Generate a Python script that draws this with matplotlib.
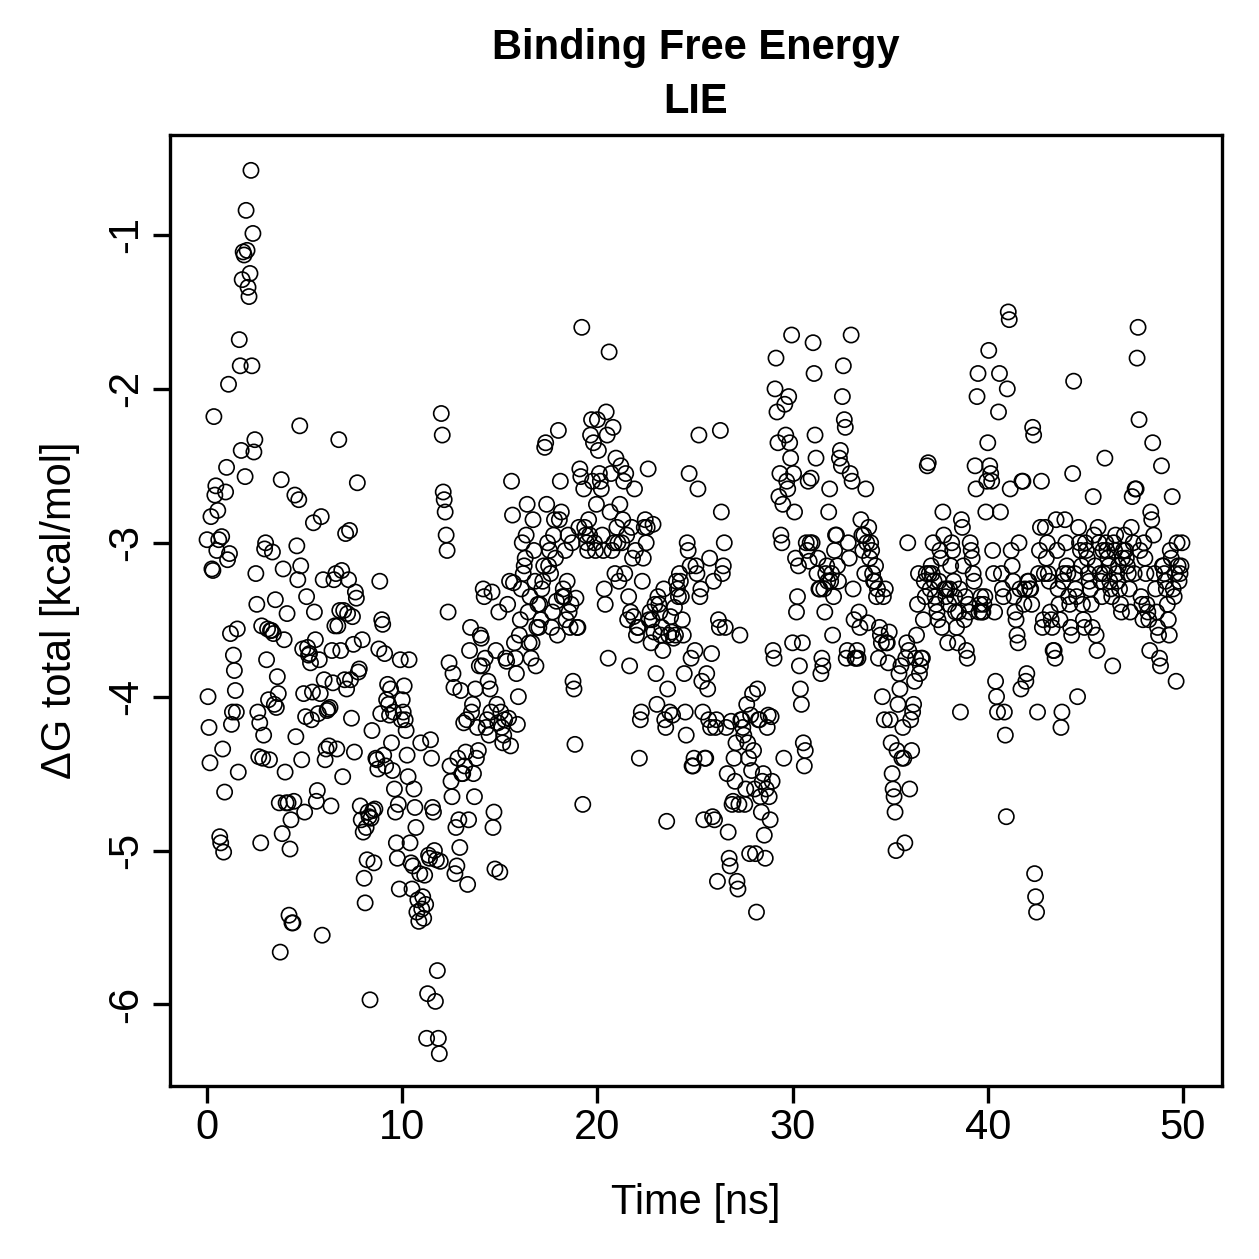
import numpy as np
import matplotlib
matplotlib.use('Agg')
import matplotlib.pyplot as plt

plt.rcParams['font.family'] = ['Liberation Sans', 'DejaVu Sans']

# ΔG total [kcal/mol], one value every 0.05 ns, split by 10 ns
dg_0_10 = [
    -2.98, -4.00, -4.20, -4.43, -2.83, -3.17, -3.18, -2.18, -2.69, -2.63, -3.05, -2.79, -2.98, -4.91, -4.95, -2.96, -4.34, -5.01, -4.62, -2.67,
    -2.51, -3.11, -1.97, -3.07, -3.59, -4.18, -4.10, -3.73, -3.83, -3.96, -4.10, -3.56, -4.49, -1.68, -1.85, -2.40, -1.29, -1.11, -1.13, -2.57,
    -0.84, -1.10, -1.34, -1.40, -1.25, -0.58, -1.85, -0.99, -2.41, -2.33, -3.20, -3.40, -4.10, -4.39, -4.17, -4.95, -3.54, -4.40, -4.25, -3.04,
    -3.00, -3.76, -3.56, -4.02, -4.41, -3.57, -3.57, -3.06, -3.59, -4.05, -3.37, -4.07, -3.87, -3.98, -4.69, -5.66, -2.59, -4.89, -3.17, -3.63,
    -4.49, -4.69, -3.46, -4.69, -5.42, -4.99, -4.80, -5.47, -5.47, -4.68, -2.69, -4.26, -3.02, -3.24, -2.72, -2.24, -3.15, -4.41, -3.69, -3.98,
    -4.75, -4.13, -3.35, -3.68, -3.73, -3.72, -3.78, -4.15, -3.97, -2.87, -3.45, -3.63, -4.68, -4.61, -4.11, -3.76, -3.98, -2.83, -5.55, -3.24,
    -3.89, -4.41, -4.34, -4.09, -4.08, -4.32, -4.07, -4.71, -3.70, -3.91, -3.24, -3.54, -3.20, -4.34, -3.54, -2.33, -3.44, -3.70, -3.18, -4.52,
    -3.44, -3.89, -2.94, -3.95, -3.46, -3.24, -2.92, -3.89, -4.14, -3.48, -3.66, -4.36, -3.32, -3.36, -2.61, -3.84, -3.82, -4.71, -4.80, -3.63,
    -4.88, -5.18, -5.34, -4.85, -5.06, -4.75, -4.78, -5.97, -4.79, -4.22, -4.74, -5.08, -4.73, -4.40, -4.41, -4.47, -3.69, -3.25, -4.11, -3.50,
    -3.53, -4.38, -3.72, -4.45, -4.02, -3.92, -4.05, -4.12, -3.95, -4.30, -4.48, -4.10, -4.60, -4.75, -4.95, -5.05, -4.70, -5.25, -3.76, -4.15,
]
dg_10_20 = [
    -4.02, -4.10, -3.93, -4.15, -4.22, -4.38, -4.52, -3.76, -4.95, -5.08, -5.25, -5.10, -4.60, -4.72, -4.85, -5.40, -5.32, -5.46, -5.15, -4.30,
    -5.38, -5.30, -5.44, -5.16, -5.35, -6.22, -5.93, -5.03, -5.05, -4.28, -4.40, -4.72, -4.75, -5.00, -5.98, -5.06, -5.78, -6.22, -6.32, -5.07,
    -2.16, -2.30, -2.67, -2.72, -2.80, -2.95, -3.05, -3.45, -3.78, -4.45, -4.55, -4.65, -3.85, -3.94, -5.15, -4.85, -5.10, -4.40, -4.80, -4.98,
    -3.96, -4.50, -4.50, -4.17, -4.45, -4.36, -4.15, -5.22, -4.80, -3.70, -3.55, -4.10, -4.05, -4.50, -4.65, -3.95, -4.40, -4.20, -4.35, -3.80,
    -3.60, -3.62, -3.80, -3.30, -3.35, -3.75, -4.20, -4.15, -3.90, -4.25, -3.95, -4.10, -3.32, -4.85, -4.75, -5.12, -3.70, -4.05, -4.17, -3.45,
    -5.14, -4.10, -4.20, -4.30, -4.25, -4.15, -3.75, -3.77, -3.40, -4.14, -3.25, -4.32, -2.60, -2.82, -3.26, -3.65, -3.75, -3.85, -4.18, -4.00,
    -3.60, -3.50, -3.30, -3.00, -3.20, -3.15, -3.10, -2.95, -2.75, -3.45, -3.65, -3.35, -3.75, -3.65, -2.85, -3.05, -3.25, -3.80, -3.55, -3.40,
    -3.55, -3.40, -3.50, -3.30, -3.25, -3.15, -2.38, -2.35, -2.75, -3.00, -3.15, -3.05, -3.20, -3.55, -3.45, -2.95, -2.85, -3.10, -3.38, -3.60,
    -2.27, -2.85, -2.60, -2.80, -3.35, -3.30, -3.35, -3.05, -3.50, -3.25, -2.95, -3.45, -3.55, -3.40, -3.00, -3.90, -3.95, -4.31, -3.36, -3.55,
    -3.55, -2.90, -2.52, -2.57, -1.60, -4.70, -2.65, -2.90, -2.95, -3.00, -3.05, -2.85, -2.95, -2.30, -2.20, -2.60, -2.35, -3.00, -3.05, -2.75,
]
dg_20_30 = [
    -2.20, -2.40, -2.55, -2.60, -2.65, -2.95, -3.05, -3.30, -3.40, -2.15, -2.30, -3.75, -1.76, -2.80, -2.55, -3.05, -2.25, -3.00, -3.20, -2.45,
    -2.90, -3.00, -3.25, -2.75, -2.50, -3.00, -2.85, -2.60, -3.20, -2.55, -2.95, -3.50, -3.35, -3.80, -3.45, -2.90, -3.10, -3.48, -2.65, -3.05,
    -3.60, -3.55, -3.55, -4.40, -4.15, -4.10, -3.25, -3.10, -2.90, -2.85, -3.00, -2.90, -2.52, -3.50, -3.45, -3.65, -3.50, -2.88, -3.58, -3.40,
    -3.85, -4.05, -3.35, -3.40, -3.45, -3.60, -3.55, -3.70, -3.30, -4.15, -4.20, -4.81, -3.95, -3.60, -4.10, -3.48, -3.58, -4.12, -3.62, -3.42,
    -3.60, -3.25, -3.30, -3.35, -3.20, -3.25, -3.35, -3.50, -3.60, -3.85, -4.10, -4.25, -3.00, -3.05, -2.55, -3.15, -3.75, -4.45, -4.45, -4.40,
    -3.70, -3.15, -3.20, -2.65, -2.30, -3.35, -3.30, -3.90, -4.10, -4.80, -4.40, -4.40, -3.85, -3.95, -4.15, -3.10, -4.20, -3.72, -4.78, -3.25,
    -4.80, -4.20, -4.15, -5.20, -3.50, -3.55, -2.27, -2.80, -3.20, -3.15, -3.00, -3.55, -4.20, -4.50, -4.88, -5.05, -5.10, -4.16, -4.70, -4.68,
    -4.40, -4.55, -4.30, -5.20, -5.25, -4.70, -3.60, -4.15, -4.15, -4.20, -4.25, -4.70, -4.60, -4.05, -4.30, -4.40, -5.02, -4.12, -4.48, -3.98,
    -4.35, -4.60, -5.02, -5.40, -3.95, -4.15, -4.15, -4.65, -4.75, -4.55, -4.50, -4.90, -5.05, -4.60, -4.20, -4.12, -4.65, -4.80, -4.13, -4.55,
    -3.70, -3.75, -2.00, -1.80, -2.15, -2.35, -2.70, -2.55, -2.95, -3.00, -2.75, -4.40, -2.10, -2.30, -2.60, -2.65, -2.05, -2.35, -2.45, -1.65,
]
dg_30_40 = [
    -3.65, -2.55, -2.80, -3.10, -3.45, -3.35, -3.15, -3.80, -3.95, -4.05, -3.65, -4.30, -4.45, -4.35, -3.00, -3.05, -2.60, -3.12, -3.00, -2.58,
    -3.00, -1.70, -1.90, -2.30, -2.45, -3.20, -3.10, -3.30, -3.30, -3.85, -3.75, -3.80, -3.30, -3.45, -3.20, -3.15, -3.25, -2.80, -2.65, -3.25,
    -3.20, -3.60, -3.35, -3.05, -2.95, -2.95, -3.15, -3.25, -2.45, -2.40, -2.50, -2.05, -1.85, -2.20, -2.25, -3.75, -3.70, -3.00, -3.10, -2.55,
    -1.65, -2.60, -3.30, -3.50, -3.75, -3.75, -3.70, -3.75, -3.45, -3.55, -2.85, -2.95, -3.05, -2.95, -3.20, -2.65, -3.00, -3.52, -2.90, -3.10,
    -3.00, -3.05, -3.20, -3.25, -3.25, -3.15, -3.35, -3.30, -3.75, -3.55, -3.60, -3.65, -4.00, -3.35, -4.15, -3.30, -3.65, -3.65, -3.78, -3.58,
    -4.15, -4.30, -4.50, -4.60, -4.65, -4.75, -5.00, -4.35, -4.05, -3.85, -3.95, -3.80, -4.40, -4.20, -4.40, -4.95, -3.75, -3.65, -3.00, -3.70,
    -4.60, -4.15, -4.35, -4.10, -4.05, -3.90, -3.75, -3.60, -3.40, -3.20, -3.85, -3.80, -3.75, -3.75, -3.50, -3.25, -3.35, -3.20, -2.50, -2.48,
    -3.20, -3.30, -3.15, -3.20, -3.00, -3.25, -3.35, -3.40, -3.45, -3.50, -3.25, -3.05, -3.10, -3.55, -2.80, -2.95, -3.30, -3.35, -3.30, -3.65,
    -3.40, -3.30, -3.15, -3.00, -3.05, -3.25, -3.35, -3.45, -3.55, -3.65, -3.45, -3.30, -4.10, -2.85, -2.90, -3.15, -3.50, -3.35, -3.70, -3.75,
    -3.40, -3.45, -3.00, -3.05, -3.10, -3.20, -3.25, -2.50, -2.65, -2.05, -1.90, -3.45, -3.40, -3.35, -3.45, -3.45, -3.40, -3.35, -2.80, -2.60,
]
dg_40_50 = [
    -2.35, -1.75, -2.50, -2.55, -2.60, -3.05, -3.20, -3.45, -3.90, -4.00, -4.10, -2.15, -1.90, -2.80, -3.20, -3.30, -3.35, -4.10, -4.25, -4.78,
    -2.00, -1.50, -1.55, -2.65, -3.05, -3.15, -3.25, -3.35, -3.45, -3.50, -3.60, -3.65, -3.00, -3.30, -3.95, -2.60, -2.60, -3.40, -3.30, -3.90,
    -3.85, -3.25, -3.25, -3.30, -3.30, -3.40, -2.25, -2.30, -5.15, -5.30, -5.40, -4.10, -3.20, -3.05, -2.90, -2.60, -3.55, -3.50, -3.20, -2.90,
    -3.10, -3.00, -3.20, -3.25, -3.45, -3.50, -3.55, -3.70, -3.70, -3.75, -2.85, -3.05, -3.30, -3.40, -3.50, -4.20, -4.10, -3.25, -3.20, -2.85,
    -3.00, -3.15, -3.20, -3.35, -3.40, -3.55, -3.60, -2.55, -1.95, -3.20, -3.30, -3.35, -4.00, -2.90, -3.00, -3.05, -3.15, -3.40, -3.50, -3.55,
    -3.00, -3.05, -3.10, -3.20, -3.25, -3.30, -3.40, -3.55, -2.70, -2.95, -3.15, -3.60, -3.70, -2.90, -3.00, -3.20, -3.25, -3.35, -3.05, -3.20,
    -2.45, -3.00, -3.05, -3.10, -3.15, -3.25, -3.30, -3.35, -3.80, -3.00, -3.05, -2.95, -3.20, -3.25, -3.15, -3.30, -3.40, -3.45, -3.10, -3.05,
    -2.95, -3.05, -3.10, -3.15, -3.20, -3.30, -3.45, -2.90, -2.70, -3.00, -3.20, -2.65, -2.65, -1.80, -1.60, -2.20, -3.05, -3.35, -3.40, -3.50,
    -3.00, -3.10, -3.20, -3.40, -3.45, -3.50, -3.70, -2.80, -2.85, -2.35, -2.95, -3.20, -3.30, -3.45, -3.55, -3.60, -3.75, -3.80, -2.50, -3.15,
    -3.15, -3.20, -3.25, -3.30, -3.40, -3.50, -3.60, -3.05, -3.10, -2.70, -3.30, -3.35, -3.20, -3.90, -3.00, -3.15, -3.25, -3.20, -3.15, -3.00,
]

dg = np.array(dg_0_10 + dg_10_20 + dg_20_30 + dg_30_40 + dg_40_50)
time_ns = np.arange(len(dg)) * 0.05

fig = plt.figure(figsize=(12.59, 12.59), dpi=100)
ax = fig.add_axes([0.135, 0.1374, 0.8356, 0.7554])

ax.scatter(time_ns, dg, s=120, facecolors='none', edgecolors='black', linewidths=1.2)

ax.set_xlim(-1.9, 52.0)
ax.set_ylim(-6.53, -0.35)
ax.set_xticks([0, 10, 20, 30, 40, 50])
ax.set_yticks([-1, -2, -3, -4, -5, -6])
ax.set_yticklabels(['-1', '-2', '-3', '-4', '-5', '-6'], rotation=90, va='center')

for sp in ax.spines.values():
    sp.set_linewidth(2.4)
ax.tick_params(axis='both', length=12, width=2.4, labelsize=30)
ax.tick_params(axis='x', pad=4)
ax.tick_params(axis='y', pad=5)

ax.set_xlabel('Time [ns]', fontsize=30, labelpad=25)
ax.set_ylabel('ΔG total [kcal/mol]', fontsize=30, labelpad=19)
ax.set_title('Binding Free Energy\nLIE', fontsize=30, fontweight='bold', pad=16, linespacing=1.45)

fig.savefig('out.png', dpi=100)
